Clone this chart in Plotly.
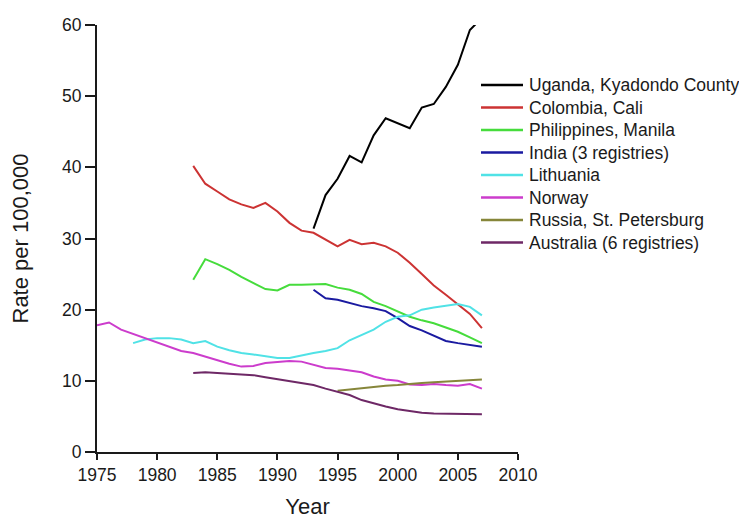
import plotly.graph_objects as go

# Rates per 100,000
uganda_years = list(range(1993, 2008))
uganda = [31.4, 36.1, 38.4, 41.6, 40.7, 44.5, 46.9, 46.2, 45.5, 48.4, 48.9, 51.3, 54.4, 59.3, 61.0]

colombia_years = list(range(1983, 2008))
colombia = [40.2, 37.7, 36.6, 35.5, 34.8, 34.3, 35.0, 33.8, 32.2, 31.1, 30.8, 29.8, 28.9,
            29.8, 29.2, 29.4, 28.9, 28.0, 26.6, 25.0, 23.4, 22.1, 20.8, 19.4, 17.4]

philippines_years = list(range(1983, 2008))
philippines = [24.2, 27.1, 26.4, 25.6, 24.6, 23.7, 22.9, 22.7, 23.5, 23.5, 23.6, 23.6, 23.1,
               22.8, 22.2, 21.1, 20.5, 19.8, 19.0, 18.5, 18.1, 17.5, 16.9, 16.1, 15.3]

india_years = list(range(1993, 2008))
india = [22.8, 21.6, 21.4, 20.9, 20.5, 20.2, 19.8, 18.8, 17.7, 17.1, 16.3, 15.6, 15.3, 15.1, 14.8]

lithuania_years = list(range(1978, 2008))
lithuania = [15.3, 15.8, 16.0, 16.0, 15.8, 15.3, 15.6, 14.8, 14.3, 13.9, 13.7, 13.4, 13.2, 13.2, 13.6,
             13.9, 14.2, 14.6, 15.7, 16.4, 17.2, 18.3, 19.0, 19.2, 20.0, 20.3, 20.5, 20.8, 20.4, 19.2]

norway_years = list(range(1975, 2008))
norway = [17.8, 18.2, 17.2, 16.6, 16.0, 15.4, 14.8, 14.2, 13.9, 13.4, 12.8, 12.4, 12.0, 12.1, 12.5,
          12.6, 12.8, 12.7, 12.2, 11.8, 11.7, 11.5, 11.2, 10.6, 10.2, 10.0, 9.5, 9.4, 9.55, 9.4,
          9.3, 9.55, 8.9]

russia_years = list(range(1995, 2008))
russia = [8.6, 8.8, 9.0, 9.2, 9.3, 9.4, 9.6, 9.7, 9.8, 9.9, 10.1, 10.1, 10.2]

australia_years = list(range(1983, 2008))
australia = [11.1, 11.2, 11.1, 11.0, 10.95, 10.8, 10.5, 10.2, 9.9, 9.7, 9.4, 8.9, 8.4, 8.0, 7.3,
             6.8, 6.4, 6.0, 5.7, 5.5, 5.4, 5.35, 5.3, 5.25, 5.3]

series = [
    ("Uganda, Kyadondo County", uganda_years, uganda, "#000000"),
    ("Colombia, Cali", colombia_years, colombia, "#cc3333"),
    ("Philippines, Manila", philippines_years, philippines, "#46dc3c"),
    ("India (3 registries)", india_years, india, "#1a1aa0"),
    ("Lithuania", lithuania_years, lithuania, "#50e2e6"),
    ("Norway", norway_years, norway, "#cc3ccc"),
    ("Russia, St. Petersburg", russia_years, russia, "#86863a"),
    ("Australia (6 registries)", australia_years, australia, "#6e2866"),
]

fig = go.Figure()
for name, xs, ys, col in series:
    fig.add_trace(go.Scatter(x=xs, y=ys, mode="lines", name=name,
                             line=dict(color=col, width=2), showlegend=False))

# the page body adds an 8px margin, so the figure is a bit smaller than the window
OFF = 8
W, H = 747 - OFF, 519 - OFF
L, T = 97 - OFF, 25 - OFF
R, B = W - (518 - OFF), H - (452 - OFF)
pw, ph = W - L - R, H - T - B

# legend drawn by hand so the row spacing matches the original
for i, (name, xs, ys, col) in enumerate(series):
    yp = 85 - OFF + i * 22.5
    yy = (H - B - yp) / ph
    fig.add_shape(type="line", xref="paper", yref="paper",
                  x0=(481 - OFF - L) / pw, x1=(523 - OFF - L) / pw, y0=yy, y1=yy,
                  line=dict(color=col, width=2.5))
    fig.add_annotation(xref="paper", yref="paper", x=(527 - OFF - L) / pw, y=yy,
                       xanchor="left", yanchor="middle", showarrow=False,
                       text=name, font=dict(size=17.5, color="#1a1a1a"))

font = "Arial, Liberation Sans, sans-serif"
fig.update_layout(
    width=W, height=H,
    margin=dict(l=L, r=R, t=T, b=B),
    plot_bgcolor="white", paper_bgcolor="white",
    font=dict(family=font, size=17.5, color="#1a1a1a"),
    showlegend=False,
)
fig.update_xaxes(range=[1975, 2010], tickvals=list(range(1975, 2011, 5)),
                 showline=True, linecolor="#1a1a1a", linewidth=2,
                 ticks="outside", ticklen=6, tickwidth=2, tickcolor="#1a1a1a",
                 showgrid=False, zeroline=False, automargin=False,
                 title=dict(text="Year", font=dict(size=22), standoff=15))
fig.update_yaxes(range=[0, 60], tickvals=list(range(0, 61, 10)),
                 showline=True, linecolor="#1a1a1a", linewidth=2,
                 ticks="outside", ticklen=10, tickwidth=2, tickcolor="#1a1a1a",
                 showgrid=False, zeroline=False, automargin=False,
                 title=dict(text="Rate per 100,000", font=dict(size=22), standoff=34))

fig.write_html("out.html")
